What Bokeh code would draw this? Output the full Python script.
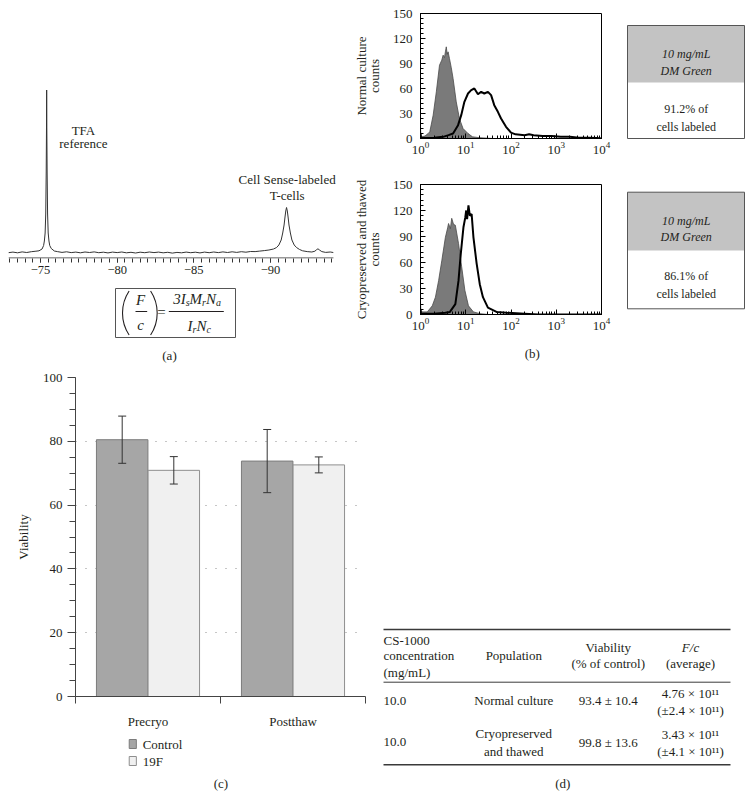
import math
from bokeh.plotting import figure
from bokeh.layouts import row, column
from bokeh.models import (Range1d, FixedTicker, SingleIntervalTicker, Whisker, TeeHead,
                          ColumnDataSource, CustomJSTickFormatter, Label)
from bokeh.core.properties import value
from bokeh.embed import file_html
from bokeh.resources import INLINE

SERIF = "Liberation Serif"
TXT = "#231f20"

# ---------------- (a) 19F NMR spectrum ----------------
spec_ppm = [-72.9, -73.2, -73.5, -73.8, -74.1, -74.4, -74.7, -74.9, -75.1, -75.2, -75.25, -75.3,
            -75.34, -75.37, -75.39, -75.4, -75.41, -75.43, -75.46, -75.5, -75.55, -75.6, -75.7,
            -75.9, -76.1, -76.4, -76.7, -77.0, -77.3, -77.6, -77.9, -78.2, -78.5, -78.8, -79.1,
            -79.4, -79.7, -80.0, -80.3, -80.6, -80.9, -81.2, -81.5, -81.8, -82.1, -82.4, -82.7,
            -83.0, -83.3, -83.6, -83.9, -84.2, -84.5, -84.8, -85.1, -85.4, -85.7, -86.0, -86.3,
            -86.6, -86.9, -87.2, -87.5, -87.8, -88.1, -88.4, -88.7, -89.0, -89.3, -89.6, -89.9,
            -90.2, -90.4, -90.55, -90.7, -90.8, -90.89, -90.95, -91.0, -91.05, -91.1, -91.15,
            -91.21, -91.3, -91.4, -91.55, -91.7, -91.9, -92.1, -92.4, -92.7, -92.9, -93.0, -93.1,
            -93.2, -93.35, -93.6, -93.9, -94.1]
spec_int = [0.3, 0.9, 0.2, 1.1, 0.5, 1.3, 1.8, 2.2, 4.0, 7.5, 12, 20,
            39, 81, 126, 163, 126, 81, 39, 20, 12, 7.5, 4.5,
            2.0, 1.4, 0.6, 1.2, 0.4, 0.9, 0.2, 1.0, 0.5, 1.1, 0.3, 0.8,
            0.1, 0.9, 0.4, 1.0, 0.2, 0.7, 0.0, 0.8, 0.3, 1.0, 0.4, 0.9,
            0.2, 0.7, -0.1, 0.6, 0.2, 0.9, 0.3, 0.8, 0.1, 0.9, 0.3, 1.0,
            0.4, 1.1, 0.5, 1.2, 0.6, 1.3, 0.8, 1.5, 1.4, 1.9, 2.4, 3.0,
            4.0, 5.5, 8, 13, 20, 28, 36, 42, 45.5, 42, 36,
            28, 20, 13, 8, 5.5, 3.5, 2.2, 1.4, 1.0, 1.8, 3.2, 4.2,
            3.0, 1.4, 0.6, 1.0, 0.5]
spec_ticks = [-75, -80, -85, -90]
spec_axis_span = [-72.91, -94.11]

# ---------------- (b) flow cytometry histograms (log10 fluorescence, counts) ----------------
nc_ctrl_log = [0.0, 0.01, 0.03, 0.10, 0.17, 0.205, 0.28, 0.35, 0.42, 0.47, 0.50, 0.53, 0.55,
               0.57, 0.59, 0.61, 0.64, 0.68, 0.72, 0.79, 0.86, 0.94, 1.05, 1.15, 1.3, 1.6, 4.0]
nc_ctrl_cnt = [12, 4, 2, 3, 6, 8, 28, 56, 88, 94, 100, 97, 104, 110, 101, 104, 96, 85, 72, 44,
               24, 12, 6, 2, 1, 0, 0]
nc_lab_log = [0.0, 0.01, 0.1, 0.3, 0.5, 0.62, 0.72, 0.83, 0.90, 0.97, 1.05, 1.12, 1.19, 1.27,
              1.34, 1.41, 1.49, 1.56, 1.63, 1.71, 1.78, 1.89, 2.0, 2.1, 2.3, 2.4, 2.5, 2.7, 2.9,
              3.1, 3.3, 3.5, 3.7, 3.9, 4.0]
nc_lab_cnt = [6, 1, 0.5, 1, 2, 4, 6, 16, 28, 44, 54, 58, 60, 53, 56, 54, 56, 52, 40, 32, 24, 14,
              7, 5, 4, 5, 4, 3, 3, 2, 2, 1, 1, 0.5, 0]
ct_ctrl_log = [0.0, 0.01, 0.05, 0.15, 0.26, 0.33, 0.40, 0.47, 0.55, 0.60, 0.62, 0.66, 0.69,
               0.73, 0.77, 0.84, 0.91, 0.98, 1.06, 1.17, 1.31, 1.5, 4.0]
ct_ctrl_cnt = [12, 4, 3, 3, 10, 20, 39, 62, 89, 100, 105, 99, 111, 104, 103, 82, 55, 28, 10, 3,
               1, 0, 0]
ct_lab_log = [0.0, 0.01, 0.3, 0.55, 0.65, 0.77, 0.84, 0.89, 0.95, 0.99, 1.01, 1.03, 1.06, 1.09,
              1.13, 1.17, 1.24, 1.31, 1.38, 1.49, 1.68, 1.9, 2.3, 2.6, 4.0]
ct_lab_cnt = [6, 1, 1, 2, 3, 12, 39, 70, 101, 112, 120, 110, 126, 114, 116, 89, 59, 35, 20, 8,
              3, 2, 1, 0, 0]

box_conc = "10 mg/mL"
box_dye = "DM Green"
labeled_pct = [91.2, 86.1]

# ---------------- (c) viability bars ----------------
timepoints = ["Precryo", "Postthaw"]
series_names = ["Control", "19F"]
control_mean = [80.5, 73.8]
control_err = [7.4, 9.9]
f19_mean = [70.9, 72.6]
f19_err = [4.3, 2.5]
series_fill = ["#a6a6a6", "#f0f0f0"]
series_edge = ["#7c7c7c", "#8e8e8e"]

# ---------------- (d) table ----------------
tbl_conc = [10.0, 10.0]
tbl_population = [["Normal culture"], ["Cryopreserved", "and thawed"]]
tbl_viab_mean = [93.4, 99.8]
tbl_viab_sd = [10.4, 13.6]
tbl_fc_mean = [4.76, 3.43]
tbl_fc_sd = [2.4, 4.1]
tbl_fc_exp = "\u00b9\u00b9"  # superscript 11


def canvas(w, h):
    f = figure(width=w, height=h, x_range=Range1d(0, w), y_range=Range1d(h, 0),
               toolbar_location=None, output_backend="svg", min_border=0,
               x_axis_location=None, y_axis_location=None)
    f.grid.visible = False
    f.outline_line_color = None
    return f


def txt(f, x, y, s, size="13px", align="center", style="normal", color=TXT):
    f.text(x=[x], y=[y], text=[s], text_font=value(SERIF), text_font_size=size,
           text_align=align, text_baseline="middle", text_font_style=style, text_color=color)


# ======== panel (a) spectrum ========
pa = figure(width=332, height=276, x_range=Range1d(-72.91, -94.57), y_range=Range1d(-5.5, 192.5),
            toolbar_location=None, output_backend="svg", y_axis_location=None,
            min_border_left=0, min_border_right=0, min_border_top=54, min_border_bottom=24)
pa.outline_line_color = None
pa.grid.visible = False
pa.line(spec_ppm, spec_int, line_color="#333333", line_width=1)
pa.segment(x0=[spec_axis_span[0]], x1=[spec_axis_span[1]], y0=[-5.0], y1=[-5.0],
           line_color="#333333", line_width=1)
ax = pa.xaxis[0]
ax.ticker = FixedTicker(ticks=spec_ticks, minor_ticks=[-73.0 - 0.5 * i for i in range(43)])
ax.formatter = CustomJSTickFormatter(code="return (tick < 0 ? '\\u2212' : '') + Math.abs(tick)")
ax.major_tick_in = 0
ax.major_tick_out = 4
ax.minor_tick_in = 0
ax.minor_tick_out = 4
ax.axis_line_color = None
ax.major_tick_line_color = "#333333"
ax.minor_tick_line_color = "#333333"
ax.major_label_text_font = SERIF
ax.major_label_text_font_size = "12.5px"
ax.major_label_text_color = TXT
ax.major_label_standoff = 3
for lx, ly, lt in [(-77.8, 122.5, "TFA"), (-77.8, 109.5, "reference"),
                   (-91.09, 74, "Cell Sense-labeled"), (-91.09, 58, "T-cells")]:
    pa.add_layout(Label(x=lx, y=ly, text=lt, text_font=SERIF, text_font_size="13px",
                        text_align="center", text_baseline="middle", text_color=TXT))

# formula + caption canvas
pa2 = canvas(332, 83)
pa2.quad(left=[107], right=[227], top=[6], bottom=[55], fill_color=None,
         line_color="#555555", line_width=1)
pa2.arc(x=[154], y=[30.5], radius=40, start_angle=math.radians(146.6),
        end_angle=math.radians(213.4), line_color=TXT, line_width=1.1)
pa2.arc(x=[108.7], y=[30.5], radius=40, start_angle=math.radians(-33.4),
        end_angle=math.radians(33.4), line_color=TXT, line_width=1.1)
txt(pa2, 132, 17, "F", size="15px", style="italic")
txt(pa2, 132, 42, "c", size="15px", style="italic")
pa2.segment(x0=[127, 160.3], y0=[29, 29], x1=[138.7, 215.3], y1=[29, 29],
            line_color=TXT, line_width=1)
txt(pa2, 153, 29.5, "=", size="15px")
for xx, s, sub in [(164.7, "3", False), (172.2, "I", False), (177.2, "s", True),
                   (181.1, "M", False), (193.6, "r", True), (197.5, "N", False),
                   (207.5, "a", True)]:
    txt(pa2, xx, 16.3 + (4 if sub else 0), s, size="10px" if sub else "15px",
        align="left", style="italic")
for xx, s, sub in [(179, "I", False), (184, "r", True), (187.9, "N", False), (197.9, "c", True)]:
    txt(pa2, xx, 43 + (4 if sub else 0), s, size="10px" if sub else "15px",
        align="left", style="italic")
txt(pa2, 161, 73, "(a)")


# ======== panel (b) histograms ========
def hist_fig(h, lb, rb, tb, bb, ylabel, lc, cc, ll, cl):
    f = figure(width=280, height=h, x_axis_type="log", x_range=Range1d(1, 1e4),
               y_range=Range1d(0, 150), toolbar_location=None, output_backend="svg",
               min_border_left=lb, min_border_right=rb, min_border_top=tb, min_border_bottom=bb)
    f.grid.visible = False
    f.outline_line_color = "black"
    f.outline_line_width = 1
    xc = [10 ** v for v in lc]
    f.varea(x=xc, y1=[0] * len(xc), y2=cc, fill_color="#7a7a7a")
    f.line(xc, cc, line_color="#4a4a4a", line_width=0.8)
    f.line([10 ** v for v in ll], cl, line_color="black", line_width=2)
    xa = f.xaxis[0]
    ya = f.yaxis[0]
    ya.ticker = SingleIntervalTicker(interval=30, num_minor_ticks=5)
    for a in (xa, ya):
        a.axis_line_color = "black"
        a.major_tick_line_color = "black"
        a.minor_tick_line_color = "black"
        a.major_tick_in = 5
        a.major_tick_out = 0
        a.minor_tick_in = 3
        a.minor_tick_out = 0
        a.major_label_text_font = SERIF
        a.major_label_text_font_size = "13px"
        a.major_label_text_color = TXT
    xa.major_label_standoff = 3
    ya.major_label_standoff = 8
    ya.axis_label = ylabel
    ya.axis_label_text_font = SERIF
    ya.axis_label_text_font_size = "13px"
    ya.axis_label_text_font_style = "normal"
    ya.axis_label_text_color = TXT
    ya.axis_label_text_line_height = 0.9
    ya.axis_label_standoff = 8
    return f


pb1 = hist_fig(171, 79, 19, 7, 39, "Normal culture\ncounts",
               nc_ctrl_log, nc_ctrl_cnt, nc_lab_log, nc_lab_cnt)
pb2 = hist_fig(163, 80, 17, 7, 26, "Cryopreserved and thawed\ncounts",
               ct_ctrl_log, ct_ctrl_cnt, ct_lab_log, ct_lab_cnt)
pb3 = canvas(280, 25)
txt(pb3, 173, 13, "(b)")

# boxes (canvas y = page y - 6)
pbox = canvas(125, 359)
for top, mid, bot, pct in [(19, 76, 132, labeled_pct[0]), (185.7, 244, 302.3, labeled_pct[1])]:
    pbox.quad(left=[7], right=[124], top=[top], bottom=[mid], fill_color="#c3c3c3", line_color=None)
    pbox.quad(left=[7], right=[124], top=[top], bottom=[bot], fill_color=None,
              line_color="#555555", line_width=1)
    txt(pbox, 65.7, top + 28.3, box_conc, size="12px", style="italic")
    txt(pbox, 65.7, top + 45, box_dye, size="12px", style="italic")
    txt(pbox, 65.7, top + 83.3, "%.1f%% of" % pct, size="12px")
    txt(pbox, 65.7, top + 101.7, "cells labeled", size="12px")

# ======== panel (c) bars ========
pc = figure(width=367, height=366, x_range=Range1d(0, 2), y_range=Range1d(0, 100),
            toolbar_location=None, output_backend="svg",
            min_border_left=67, min_border_right=10, min_border_top=12, min_border_bottom=30)
pc.outline_line_color = None
pc.xgrid.visible = False
pc.ygrid.grid_line_color = "#8c8c8c"
pc.ygrid.grid_line_dash = "1 9"
pc.ygrid.grid_line_width = 1

offsets = [-0.178, 0.178]
for k, (means, errs) in enumerate([(control_mean, control_err), (f19_mean, f19_err)]):
    xs = [i + 0.5 + offsets[k] for i in range(len(timepoints))]
    src = ColumnDataSource(dict(x=xs, top=means,
                                lo=[m - e for m, e in zip(means, errs)],
                                hi=[m + e for m, e in zip(means, errs)]))
    pc.vbar(x="x", top="top", bottom=0, width=0.355, source=src,
            fill_color=series_fill[k], line_color=series_edge[k], line_width=1)
    pc.add_layout(Whisker(source=src, base="x", lower="lo", upper="hi", level="overlay",
                          line_color="#333333", line_width=1,
                          upper_head=TeeHead(size=8, line_color="#333333", line_width=1),
                          lower_head=TeeHead(size=8, line_color="#333333", line_width=1)))

xa = pc.xaxis[0]
xa.ticker = FixedTicker(ticks=[i + 0.5 for i in range(len(timepoints))],
                        minor_ticks=list(range(len(timepoints) + 1)))
xa.formatter = CustomJSTickFormatter(args=dict(cats=timepoints), code="return cats[Math.floor(tick)]")
xa.major_tick_in = 0
xa.major_tick_out = 0
xa.minor_tick_in = 0
xa.minor_tick_out = 7
xa.major_label_standoff = 10
ya = pc.yaxis[0]
ya.ticker = SingleIntervalTicker(interval=20, num_minor_ticks=4)
ya.major_tick_in = 0
ya.major_tick_out = 8
ya.minor_tick_in = 0
ya.minor_tick_out = 6
ya.major_label_standoff = 5
ya.axis_label = "Viability"
ya.axis_label_standoff = 9
ya.axis_label_text_font = SERIF
ya.axis_label_text_font_size = "13px"
ya.axis_label_text_font_style = "normal"
ya.axis_label_text_color = TXT
for a in (xa, ya):
    a.axis_line_color = "#444444"
    a.major_tick_line_color = "#444444"
    a.minor_tick_line_color = "#444444"
    a.major_label_text_font = SERIF
    a.major_label_text_font_size = "13px"
    a.major_label_text_color = TXT

pcl = canvas(367, 70)
for k, name in enumerate(series_names):
    yy = 8 + 17 * k
    pcl.quad(left=[68], right=[77], top=[yy], bottom=[yy + 9], fill_color=series_fill[k],
             line_color=series_edge[k], line_width=1)
    txt(pcl, 85, yy + 4.7, name, align="left")
txt(pcl, 184, 52.3, "(c)")

# ======== panel (d) table ========
pd_ = canvas(370, 436)
pd_.segment(x0=[8, 8, 8], y0=[264, 316.7, 399.3], x1=[355, 355, 355], y1=[264, 316.7, 399.3],
            line_color="#3a3a3a", line_width=[1.5, 1, 1.5])
txt(pd_, 8, 275, "CS-1000", align="left")
txt(pd_, 8, 290, "concentration", align="left")
txt(pd_, 8, 306.7, "(mg/mL)", align="left")
txt(pd_, 138.3, 290, "Population")
txt(pd_, 232.7, 281.7, "Viability")
txt(pd_, 232.7, 298.3, "(% of control)")
txt(pd_, 315, 281.7, "F/c", style="italic")
txt(pd_, 315, 298.3, "(average)")
row_y = [335, 376.7]
for r in range(len(tbl_conc)):
    yc = row_y[r]
    txt(pd_, 8, yc, "%.1f" % tbl_conc[r], align="left")
    lines = tbl_population[r]
    if len(lines) == 1:
        txt(pd_, 138.3, yc, lines[0])
    else:
        txt(pd_, 138.3, yc - 8.5, lines[0])
        txt(pd_, 138.3, yc + 9.3, lines[1])
    txt(pd_, 232.7, yc, "%.1f \u00b1 %.1f" % (tbl_viab_mean[r], tbl_viab_sd[r]))
    txt(pd_, 315, yc - 7.5, "%.2f \u00d7 10%s" % (tbl_fc_mean[r], tbl_fc_exp))
    txt(pd_, 315, yc + 9.5, "(\u00b1%.1f \u00d7 10%s)" % (tbl_fc_sd[r], tbl_fc_exp))
txt(pd_, 187.3, 418.3, "(d)")

root = column(row(column(pa, pa2), column(pb1, pb2, pb3), pbox),
              row(column(pc, pcl), pd_))
root.margin = (6, 8, 8, 8)

open("out.html", "w").write(file_html(root, INLINE))
